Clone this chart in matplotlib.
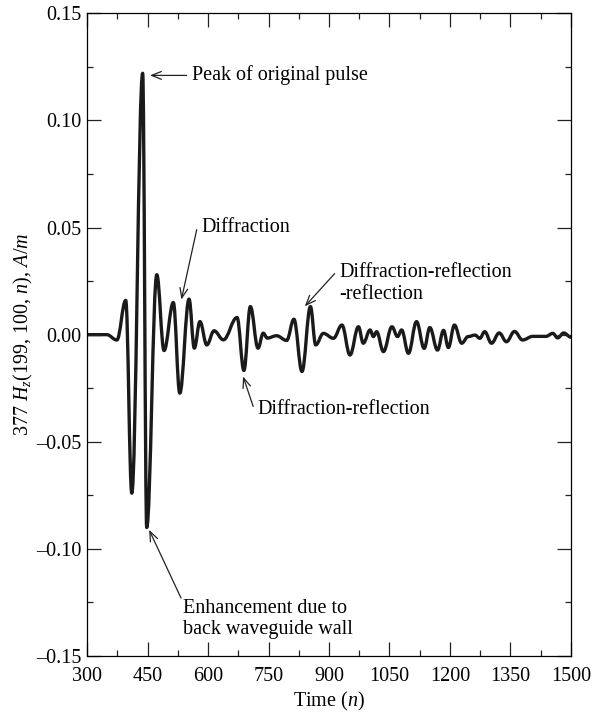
import matplotlib
matplotlib.use("Agg")
import matplotlib.pyplot as plt
from matplotlib.path import Path
from matplotlib.patches import PathPatch
from matplotlib.ticker import MultipleLocator, FuncFormatter

plt.rcParams["font.family"] = ["Liberation Serif", "DejaVu Serif"]
plt.rcParams["mathtext.fontset"] = "custom"
plt.rcParams["mathtext.rm"] = "Liberation Serif"
plt.rcParams["mathtext.it"] = "Liberation Serif:italic"

time_n = [300, 349, 374, 396, 411, 438, 448, 473, 491, 514, 530, 553, 566, 580,
          597, 615, 638, 672, 689, 705, 724, 737, 747, 770, 795, 813, 833, 854,
          867, 886, 911, 932, 952, 973, 985, 1002, 1010, 1018, 1035, 1056, 1070,
          1080, 1097, 1117, 1136, 1150, 1169, 1184, 1196, 1211, 1229, 1245, 1262,
          1274, 1286, 1303, 1322, 1340, 1360, 1380, 1405, 1438, 1455, 1467, 1482,
          1500]
hz = [0.0, 0.0, -0.0025, 0.016, -0.074, 0.122, -0.090, 0.028, -0.0074, 0.015,
      -0.0273, 0.0166, -0.0063, 0.0061, -0.0048, 0.0018, -0.0024, 0.008, -0.0167,
      0.0131, -0.0063, 0.0007, -0.0016, -0.0005, -0.0027, 0.0072, -0.0172, 0.0131,
      -0.0048, 0.0006, -0.0017, 0.0045, -0.0095, 0.0037, -0.004, 0.0022, -0.0009,
      0.0014, -0.0079, 0.0037, -0.0009, 0.0022, -0.0087, 0.0061, -0.0064, 0.0033,
      -0.0072, 0.002, -0.006, 0.0045, -0.004, -0.0009, -0.0002, -0.0017, 0.0014,
      -0.004, 0.0008, -0.0033, 0.0015, -0.0025, -0.0008, -0.0008, 0.0006, -0.0015,
      0.0008, -0.0012]

x_ticks = [300, 450, 600, 750, 900, 1050, 1200, 1350, 1500]
y_ticks = [-0.15, -0.10, -0.05, 0.00, 0.05, 0.10, 0.15]

FS = 14.5

fig = plt.figure(figsize=(5.92, 7.17), dpi=100)
ax = fig.add_axes([0.147, 0.085, 0.8175, 0.8965])

# smooth trace: cubic segments with flat tangents at each turning point
verts = [(time_n[0], hz[0])]
codes = [Path.MOVETO]
for (t0, v0), (t1, v1) in zip(zip(time_n[:-1], hz[:-1]), zip(time_n[1:], hz[1:])):
    d = (t1 - t0) * 0.38
    verts += [(t0 + d, v0), (t1 - d, v1), (t1, v1)]
    codes += [Path.CURVE4] * 3
ax.add_patch(PathPatch(Path(verts, codes), fill=False, lw=2.4, ec="#1a1a1a",
                       joinstyle="round", capstyle="round"))

ax.set_xlim(x_ticks[0], x_ticks[-1])
ax.set_ylim(y_ticks[0], y_ticks[-1])
ax.set_xticks(x_ticks)
ax.set_yticks(y_ticks)
ax.xaxis.set_minor_locator(MultipleLocator(75))
ax.yaxis.set_minor_locator(MultipleLocator(0.025))
ax.yaxis.set_major_formatter(FuncFormatter(
    lambda v, _: f"{v:.2f}".replace("-", "\u2013")))
ax.tick_params(which="both", direction="in", top=True, right=True, width=0.9,
               labelsize=FS, color="#222222")
ax.tick_params(which="major", length=10)
ax.tick_params(which="minor", length=4.5)
ax.tick_params(axis="x", pad=8)
ax.tick_params(axis="y", pad=4)
for s in ax.spines.values():
    s.set_linewidth(0.9)

ax.set_xlabel("Time ($n$)", fontsize=FS, labelpad=3)
ax.set_ylabel("377 $H_z$(199, 100, $n$), $A/m$", fontsize=FS, labelpad=1)

arrow = dict(arrowstyle="->,head_length=0.7,head_width=0.28", lw=0.9, color="#222222",
             shrinkA=0, shrinkB=0)

ax.annotate("", xy=(456, 0.121), xytext=(547, 0.121), arrowprops=arrow)
ax.text(561, 0.121, "Peak of original pulse", fontsize=FS, va="center")

ax.annotate("", xy=(534, 0.0164), xytext=(572, 0.049), arrowprops=arrow)
ax.text(584, 0.0499, "Diffraction", fontsize=FS, va="center")

ax.annotate("", xy=(840, 0.0132), xytext=(914, 0.0285), arrowprops=arrow)
ax.text(925, 0.0238, "Diffraction-reflection\n-reflection", fontsize=FS,
        va="center", linespacing=1.2)

ax.annotate("", xy=(687, -0.0195), xytext=(712, -0.0335), arrowprops=arrow)
ax.text(722, -0.035, "Diffraction-reflection", fontsize=FS, va="center")

ax.annotate("", xy=(454, -0.0911), xytext=(533, -0.1229), arrowprops=arrow)
ax.text(538, -0.1327, "Enhancement due to\nback waveguide wall", fontsize=FS,
        va="center", linespacing=1.2)

fig.savefig("out.png", dpi=100)
